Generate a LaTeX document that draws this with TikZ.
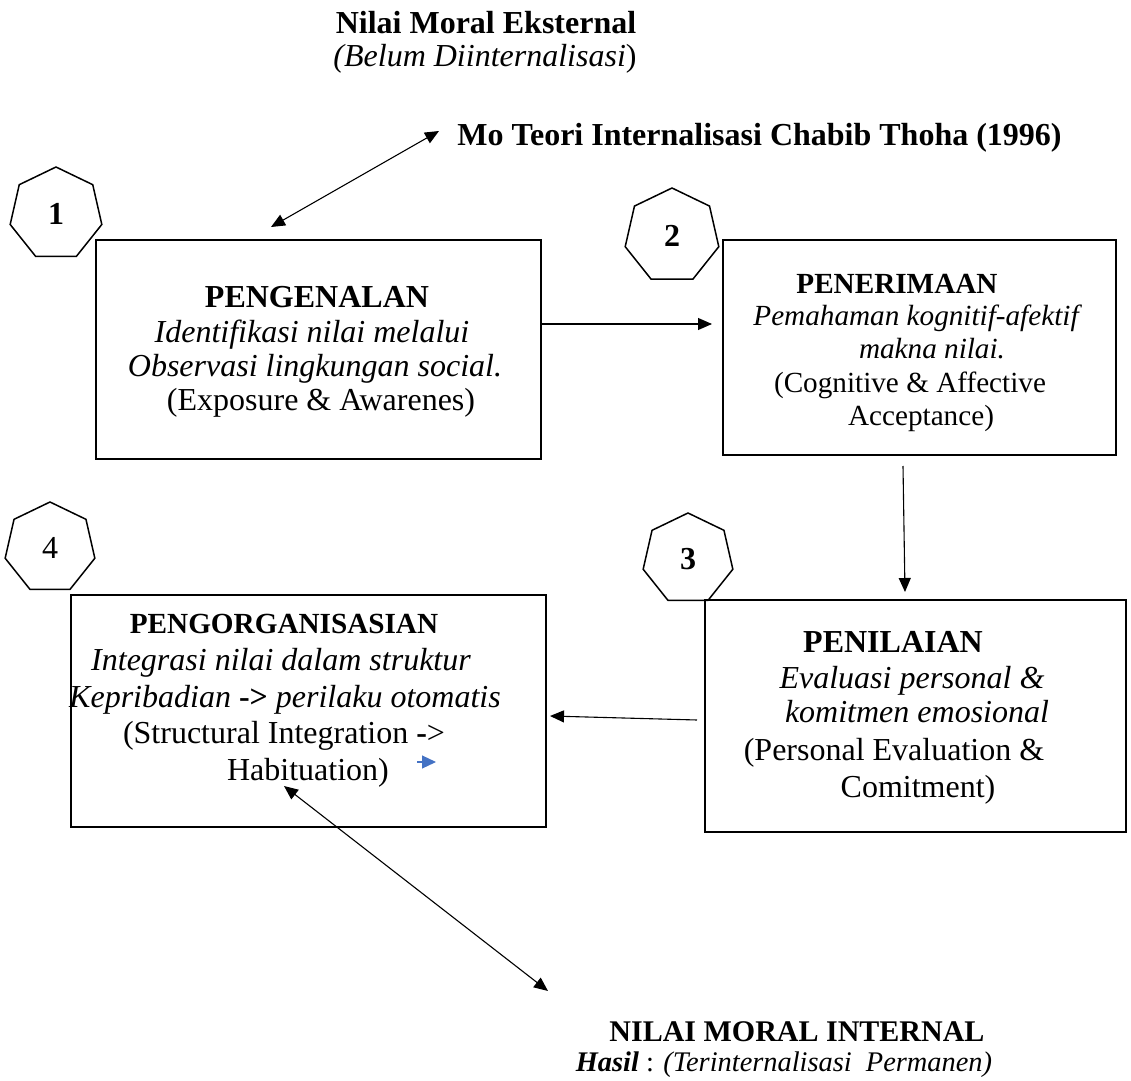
\documentclass[tikz,border=0pt]{standalone}
\usepackage{fontspec}
\setmainfont{Liberation Serif}
\usetikzlibrary{arrows.meta,shapes.geometric,calc}
\definecolor{tipblue}{RGB}{68,114,196}
\newcommand\fsA{\fontsize{16}{19}\selectfont}
\newcommand\fsB{\fontsize{14.6}{17}\selectfont}
\newcommand\fsC{\fontsize{15}{18}\selectfont}
\newcommand\fsD{\fontsize{14.2}{17}\selectfont}
\begin{document}
\begin{tikzpicture}[x=0.5pt,y=-0.5pt,
  txt/.style={inner sep=0pt, anchor=base},
  box/.style={draw, line width=0.75pt, inner sep=0pt, outer sep=0pt},
  hept/.style={draw, line width=0.75pt, regular polygon, regular polygon sides=7, inner sep=0pt, outer sep=0pt},
  arr/.style={line width=0.55pt, -{Triangle[length=7pt,width=6pt]}},
  darr/.style={line width=0.55pt, {Triangle[length=7pt,width=6pt]}-{Triangle[length=7pt,width=6pt]}}]
\useasboundingbox (0,0) rectangle (1131,1081);

% top titles
\node[txt] (t1) at (486,34) {\fsA\bfseries Nilai Moral Eksternal};
\node[txt] (t2) at (485,67) {\fsA\textit{(Belum Diinternalisasi})};
\node[txt, anchor=base west] (t3) at (457,146) {\fsA\bfseries Mo Teori Internalisasi Chabib Thoha (1996)};

% heptagons
\node[hept, minimum size=47pt] (h1) at (56,214) {\fsA\bfseries 1};
\node[hept, minimum size=48pt] (h2) at (672,236) {\fsA\bfseries 2};
\node[hept, minimum size=46pt] (h3) at (688,559) {\fsA\bfseries 3};
\node[hept, minimum size=46pt] (h4) at (50,548) {\fsA 4};

% boxes
\node[box, minimum width=222.5pt, minimum height=109.5pt] (b1) at (318.5,349.5) {};
\node[box, minimum width=196.5pt, minimum height=107.5pt] (b2) at (919.5,347.5) {};
\node[box, minimum width=210.5pt, minimum height=116pt] (b3) at (915.5,716) {};
\node[box, minimum width=237.5pt, minimum height=116pt] (b4) at (308.5,711) {};

% box 1 text
\node[txt] (b1a) at (317,307) {\fsA\bfseries PENGENALAN};
\node[txt] (b1b) at (312,342) {\fsA\itshape Identifikasi nilai melalui};
\node[txt] (b1c) at (315,376) {\fsA\itshape Observasi lingkungan social.};
\node[txt] (b1d) at (321,410) {\fsA (Exposure \& Awarenes)};

% box 2 text
\node[txt] (b2a) at (897,293) {\fsB\bfseries PENERIMAAN};
\node[txt] (b2b) at (916,325) {\fsB\itshape Pemahaman kognitif-afektif};
\node[txt] (b2c) at (932,358) {\fsB\itshape makna nilai.};
\node[txt] (b2d) at (910,392) {\fsB (Cognitive \& Affective};
\node[txt] (b2e) at (921,425) {\fsB Acceptance)};

% box 3 text
\node[txt] (b3a) at (893,652) {\fsA\bfseries PENILAIAN};
\node[txt] (b3b) at (912,688) {\fsA\itshape Evaluasi personal \&};
\node[txt] (b3c) at (917,722) {\fsA\itshape komitmen emosional};
\node[txt] (b3d) at (894,760) {\fsA (Personal Evaluation \&};
\node[txt] (b3e) at (918,797) {\fsA Comitment)};

% box 4 text
\node[txt] (b4a) at (284,633) {\fsB\bfseries PENGORGANISASIAN};
\node[txt] (b4b) at (281,670) {\fsA\itshape Integrasi nilai dalam struktur};
\node[txt] (b4c) at (285,707) {\fsA\textit{Kepribadian} \textbf{->} \textit{perilaku otomatis}};
\node[txt] (b4d) at (284,743) {\fsA (Structural Integration \textbf{-}>};
\node[txt] (b4e) at (308,780) {\fsA Habituation)};

% bottom titles
\node[txt] (t4) at (797,1041) {\fsC\bfseries NILAI MORAL INTERNAL};
\node[txt] (t5) at (784,1071) {\fsD\textbf{\textit{Hasil}} : \textit{(Terinternalisasi\ \ Permanen)}};

% arrow end points
\coordinate (a1s) at (541,324);
\coordinate (a1e) at (712,324);
\coordinate (a2s) at (903,466);
\coordinate (a2e) at (905,592);
\coordinate (a3s) at (697,720);
\coordinate (a3e) at (550,716);
\coordinate (a4s) at (271,227);
\coordinate (a4e) at (439,131);
\coordinate (a5s) at (284,786);
\coordinate (a5e) at (548,991);
\coordinate (a6s) at (417,762);
\coordinate (a6e) at (436,762);

% connectors
\draw[arr] (a1s) -- (a1e);
\draw[arr] (a2s) -- (a2e);
\draw[arr] (a3s) -- (a3e);
\draw[darr] (a4s) -- (a4e);
\draw[darr] (a5s) -- (a5e);
\draw[tipblue, line width=0.6pt, -{Triangle[length=7pt,width=6.5pt]}] (a6s) -- (a6e);
\end{tikzpicture}
\end{document}
